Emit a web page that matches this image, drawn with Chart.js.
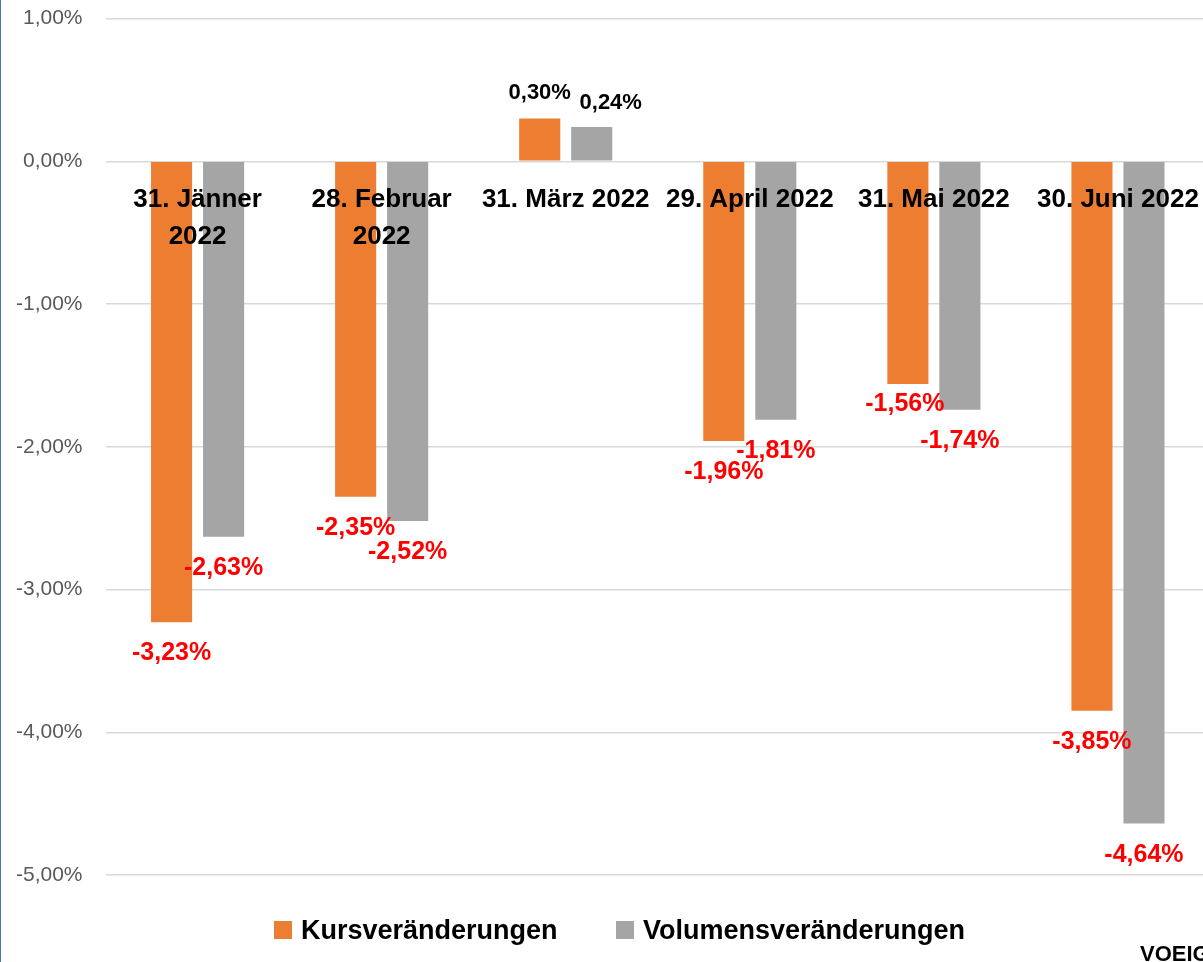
<!DOCTYPE html>
<html>
<head>
<meta charset="utf-8">
<script src="https://cdn.jsdelivr.net/npm/chart.js@4/dist/chart.umd.min.js"></script>
<style>
  html, body { margin: 0; padding: 0; width: 1203px; height: 962px; overflow: hidden; background: #fff; }
  #wrap { position: absolute; left: 0; top: -17px; width: 1220px; height: 979px; }
  #leftline { position: absolute; left: 0; top: 0; width: 1px; height: 962px; background: #4472C4; }
  .leg { position: absolute; top: 912px; height: 36px; font: bold 27px "Liberation Sans", Arial, sans-serif; color: #000; white-space: nowrap; line-height: 36px; }
  .leg span.box { display: inline-block; width: 18px; height: 18px; vertical-align: middle; margin-right: 9px; position: relative; top: -2px; }
  #src { position: absolute; left: 1140px; top: 941px; font: bold 22px "Liberation Sans", Arial, sans-serif; color: #000; white-space: nowrap; }
</style>
</head>
<body>
<div id="wrap"><canvas id="c" width="1220" height="979"></canvas></div>
<div id="leftline"></div>
<div class="leg" style="left:274px"><span class="box" style="background:#ED7D31"></span>Kursveränderungen</div>
<div class="leg" style="left:616px"><span class="box" style="background:#A5A5A5"></span>Volumensveränderungen</div>
<div id="src">VOEIG</div>
<script>
const categories = [["31. Jänner", "2022"], ["28. Februar", "2022"], "31. März 2022", "29. April 2022", "31. Mai 2022", "30. Juni 2022"];
const seriesNames = ["Kursveränderungen", "Volumensveränderungen"];
const kursValues = [-3.23, -2.35, 0.30, -1.96, -1.56, -3.85];
const volumenValues = [-2.63, -2.52, 0.24, -1.81, -1.74, -4.64];
const yTicks = [1, 0, -1, -2, -3, -4, -5];

const fmt = v => v.toFixed(2).replace('.', ',') + '%';
const FONT = '"Liberation Sans", Arial, sans-serif';

// small manual label nudges (as in the original layout)
const labelNudge = { "1,2": { dx: 19, dy: 2 }, "0,4": { dx: -3, dy: -11 } };

const dataLabels = {
  id: 'dataLabels',
  afterDatasetsDraw(chart) {
    const ctx = chart.ctx;
    ctx.save();
    ctx.textAlign = 'center';
    ctx.textBaseline = 'middle';
    chart.data.datasets.forEach((ds, di) => {
      const meta = chart.getDatasetMeta(di);
      meta.data.forEach((bar, i) => {
        const v = ds.data[i];
        const n = labelNudge[di + ',' + i] || { dx: 0, dy: 0 };
        let x = bar.x + n.dx, y;
        if (v < 0) {
          ctx.font = 'bold 25px ' + FONT;
          ctx.fillStyle = '#FF0000';
          y = bar.y + 31 + n.dy;
        } else {
          ctx.font = 'bold 22px ' + FONT;
          ctx.fillStyle = '#000000';
          y = bar.y - 26 + n.dy;
        }
        ctx.fillText(fmt(v), x, y);
      });
    });
    ctx.restore();
  }
};

new Chart(document.getElementById('c'), {
  type: 'bar',
  data: {
    labels: categories,
    datasets: [
      { label: seriesNames[0], data: kursValues, backgroundColor: '#ED7D31', categoryPercentage: 0.565, barPercentage: 0.79 },
      { label: seriesNames[1], data: volumenValues, backgroundColor: '#A5A5A5', categoryPercentage: 0.565, barPercentage: 0.79 }
    ]
  },
  options: {
    responsive: false,
    animation: false,
    events: [],
    layout: { padding: { left: -7, right: 10, top: -11, bottom: 87 } },
    plugins: { legend: { display: false }, tooltip: { enabled: false }, title: { display: false } },
    scales: {
      x: {
        position: { y: 0 },
        grid: { display: false, drawTicks: false },
        border: { display: false },
        ticks: {
          z: 1,
          autoSkip: false, maxRotation: 0, minRotation: 0,
          padding: 20,
          color: '#000000',
          font: { family: FONT, size: 26, weight: 'bold', lineHeight: 1.42 }
        }
      },
      y: {
        min: -5, max: 1,
        afterBuildTicks(scale) { scale.ticks = yTicks.map(v => ({ value: v })); },
        grid: { color: '#D9D9D9', lineWidth: 1.5, drawTicks: false },
        border: { display: false },
        ticks: {
          padding: 23,
          color: '#595959',
          font: { family: FONT, size: 21 },
          callback: v => fmt(v)
        }
      }
    }
  },
  plugins: [dataLabels]
});
</script>
</body>
</html>
